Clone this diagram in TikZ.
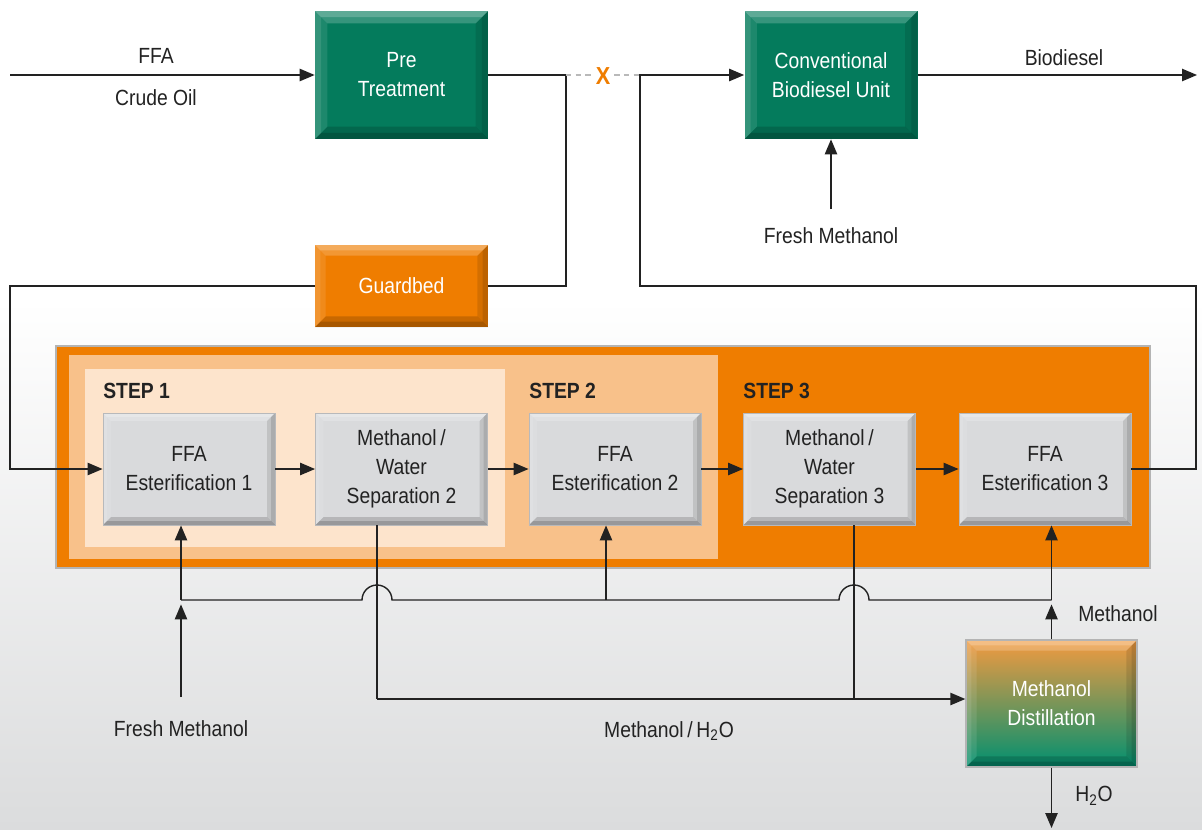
\documentclass[tikz,border=0pt]{standalone}
\usepackage{fontspec}
\setmainfont{Liberation Sans}[FakeStretch=0.88]
\usetikzlibrary{arrows.meta, positioning, calc}

\definecolor{pgreen}{RGB}{4,123,92}
\definecolor{porange}{RGB}{239,125,0}
\definecolor{psteptwo}{RGB}{248,193,138}
\definecolor{pstepone}{RGB}{253,228,204}
\definecolor{pgraybox}{RGB}{217,218,220}
\definecolor{pframe}{RGB}{180,180,180}
\definecolor{pdistor}{RGB}{243,154,64}
\definecolor{pdistmid}{RGB}{170,156,96}
\definecolor{pdistgr}{RGB}{0,144,112}
\definecolor{pbg}{RGB}{219,220,221}
\definecolor{ptext}{RGB}{34,34,34}

\tikzset{
  line/.style={line width=0.8pt, ptext},
  flow/.style={line, -{Triangle[length=8.5pt,width=7pt]}},
  bevel/.style={path picture={
    \path (path picture bounding box.north west) coordinate (bnw)
          (path picture bounding box.north east) coordinate (bne)
          (path picture bounding box.south east) coordinate (bse)
          (path picture bounding box.south west) coordinate (bsw);
    \foreach \f in {1,0.5}{
      \fill[white,opacity=.2] (bnw) -- (bne) -- ([shift={(-\f*#1,-\f*#1)}]bne) -- ([shift={(\f*#1,-\f*#1)}]bnw) -- cycle;
      \fill[white,opacity=.1] (bnw) -- ([shift={(\f*#1,-\f*#1)}]bnw) -- ([shift={(\f*#1,\f*#1)}]bsw) -- (bsw) -- cycle;
      \fill[black,opacity=.16] (bsw) -- ([shift={(\f*#1,\f*#1)}]bsw) -- ([shift={(-\f*#1,\f*#1)}]bse) -- (bse) -- cycle;
      \fill[black,opacity=.11] (bse) -- ([shift={(-\f*#1,\f*#1)}]bse) -- ([shift={(-\f*#1,-\f*#1)}]bne) -- (bne) -- cycle;
    }
  }},
  greenbox/.style={fill=pgreen, text=white, align=center, minimum width=3.46cm, minimum height=2.56cm, bevel=7pt},
  orangebox/.style={fill=porange, text=white, align=center, minimum width=3.46cm, minimum height=1.64cm, bevel=6pt},
  graybox/.style={fill=pgraybox, draw=pgraybox!85!black, line width=0.5pt, text=ptext, align=center, minimum width=3.44cm, minimum height=2.24cm, bevel=4.5pt},
  distbox/.style={top color=pdistor, middle color=pdistmid, bottom color=pdistgr, draw=pframe, line width=0.8pt, text=white, align=center, minimum width=3.42cm, minimum height=2.54cm, bevel=6pt},
  lbl/.style={text=ptext, inner sep=0pt},
  steplabel/.style={text=ptext, inner sep=0pt, font=\fontsize{12.5}{15}\selectfont\bfseries},
}

\begin{document}
\begin{tikzpicture}[x=0.02cm, y=-0.02cm, font=\fontsize{12.5}{16.5}\selectfont]
\useasboundingbox (0,0) rectangle (1202,829);

% background
\fill[white] (0,0) rectangle (1202,300);
\shade[top color=white, bottom color=pbg] (0,300) rectangle (1202,829);

% steps
\filldraw[fill=porange, draw=pframe, line width=1.6pt] (56,346) rectangle (1150,568);
\fill[psteptwo] (69,355) rectangle (718,559);
\fill[pstepone] (85,369) rectangle (505,547);
\node[steplabel, anchor=base west] (step1) at (103,398) {STEP 1};
\node[steplabel, anchor=base west] (step2) at (529,398) {STEP 2};
\node[steplabel, anchor=base west] (step3) at (743,398) {STEP 3};

% units
\node[greenbox] (pre) at (401.5,75) {Pre\\Treatment};
\node[greenbox] (conv) at (831,75) {Conventional\\Biodiesel Unit};
\node[orangebox] (guard) at (401.5,286) {Guardbed};
\node[graybox] (est1) at (189,469) {FFA\\Esterification 1};
\node[graybox] (sep2) at (401.5,469) {Methanol\,/\\Water\\Separation 2};
\node[graybox] (est2) at (615,469) {FFA\\Esterification 2};
\node[graybox] (sep3) at (829.5,469) {Methanol\,/\\Water\\Separation 3};
\node[graybox] (est3) at (1045,469) {FFA\\Esterification 3};
\node[distbox] (dist) at (1051.5,703.5) {Methanol\\Distillation};

% labels
\node[lbl] (ffa) at (156,56) {FFA};
\node[lbl] (crude) at (156,98) {Crude Oil};
\node[lbl] (bio) at (1064,58) {Biodiesel};
\node[lbl] (fresh1) at (831,236) {Fresh Methanol};
\node[lbl] (fresh2) at (181,729) {Fresh Methanol};
\node[lbl] (mwater) at (669,731) {Methanol\,/\,H\textsubscript{2}O};
\node[lbl] (meth) at (1118,614) {Methanol};
\node[lbl] (water) at (1094,796) {H\textsubscript{2}O};

\coordinate (in) at (10,75);
\coordinate (out) at (1197,75);
\coordinate (bendA) at (566,286);
\coordinate (cutR) at (640,75);
\coordinate (bendB) at (640,286);
\coordinate (bendC) at (1196,286);
\coordinate (feedL) at (10,286);
\coordinate (fm1) at (831,209);
\coordinate (fm2) at (181,697);
\coordinate (m1) at (181,600);
\coordinate (m2) at (606,600);
\coordinate (m3) at (1051.5,600);
\coordinate (w2) at (377,699);
\coordinate (w3) at (854,699);
\coordinate (h2oend) at (1051.5,828);

% top part
\draw[flow] (in) -- (pre.west);
\draw[line] (pre.east) -| (bendA) -- (guard.east);
\draw[gray!55, line width=0.8pt, dash pattern=on 3pt off 2.5pt] (pre.east -| bendA) -- (cutR);
\node[text=porange, fill=white, inner sep=1pt, font=\fontsize{14}{14}\selectfont\bfseries] (cut) at (603,76) {X};
\draw[flow] (guard.west) -- (feedL) |- (est1.west);
\draw[flow] (est3.east) -| (bendC) -- (bendB) -- (cutR) -- (conv.west);
\draw[flow] (conv.east) -- (out);
\draw[flow] (fm1) -- (conv.south);

% steps chain
\draw[flow] (est1) -- (sep2);
\draw[flow] (sep2) -- (est2);
\draw[flow] (est2) -- (sep3);
\draw[flow] (sep3) -- (est3);

% methanol loop
\draw[line] (m1) -- ($(w2 |- m1)+(-15,0)$) arc[start angle=180, end angle=0, radius=0.3cm]
  -- ($(w3 |- m1)+(-15,0)$) arc[start angle=180, end angle=0, radius=0.3cm] -- (m3);
\draw[flow] (m1) -- (est1.south -| m1);
\draw[flow] (m2) -- (est2.south -| m2);
\draw[flow] (m3) -- (est3.south -| m3);
\draw[flow, shorten >=2.5pt] (fm2) -- (m1);
\draw[flow, shorten >=2.5pt] (dist.north) -- (m3);
\draw[line] (sep2.south -| w2) -- (w2);
\draw[line] (sep3.south -| w3) -- (w3);
\draw[flow] (w2) -- (dist.west |- w2);
\draw[flow] (dist.south) -- (h2oend);

\end{tikzpicture}
\end{document}
